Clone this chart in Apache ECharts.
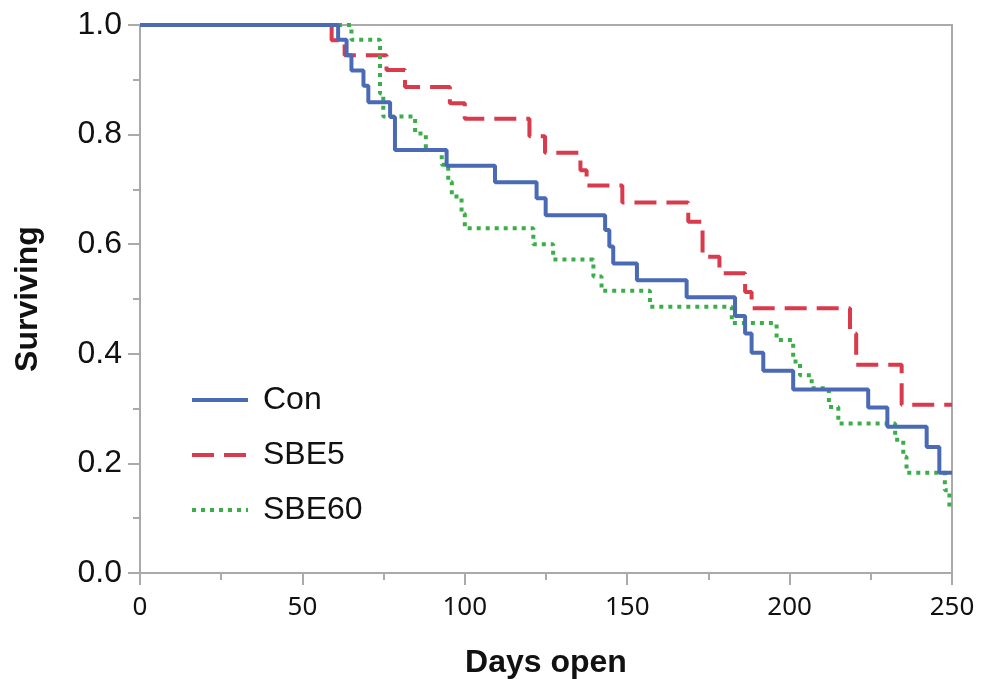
<!DOCTYPE html>
<html>
<head>
<meta charset="utf-8">
<script src="https://cdn.jsdelivr.net/npm/echarts@6/dist/echarts.min.js"></script>
<style>
  html, body { margin: 0; padding: 0; background: #fff; }
  #chart { width: 985px; height: 679px; }
</style>
</head>
<body>
<div id="chart"></div>
<script>
// Kaplan-Meier style survival curves
const conDays = [0, 61, 63.6, 65.1, 68.8, 70.3, 77.0, 78.5, 94.4, 109.3, 122.1, 124.9, 143.2, 144.5, 145.7, 153.0, 168.3, 183.2, 186.3, 188.3, 191.9, 201.1, 224.2, 230.1, 242.2, 246.1, 250];
const conSurv = [1.0, 0.973, 0.945, 0.917, 0.889, 0.859, 0.832, 0.772, 0.743, 0.713, 0.684, 0.653, 0.626, 0.596, 0.565, 0.534, 0.503, 0.469, 0.437, 0.402, 0.369, 0.335, 0.302, 0.267, 0.230, 0.183, 0.183];

const sbe5Days = [0, 59, 63, 75.9, 81.6, 95.4, 100, 119.9, 124.7, 135.6, 137.5, 148.5, 168.8, 173.2, 178.4, 186.3, 188.3, 218.6, 220.5, 234.5, 250];
const sbe5Surv = [1.0, 0.972, 0.945, 0.918, 0.887, 0.857, 0.829, 0.797, 0.767, 0.735, 0.707, 0.676, 0.641, 0.577, 0.547, 0.513, 0.483, 0.437, 0.380, 0.307, 0.307];

const sbe60Days = [0, 65.1, 73.9, 74.9, 84.7, 88, 92.9, 94.9, 96, 99, 100, 121.1, 127.2, 139.6, 142.1, 157, 182.2, 196, 201.1, 203.2, 206.8, 212.1, 215, 232.5, 235, 236, 247.8, 249.2, 250];
const sbe60Surv = [1.0, 0.973, 0.875, 0.833, 0.802, 0.772, 0.745, 0.714, 0.687, 0.656, 0.629, 0.600, 0.572, 0.541, 0.515, 0.486, 0.456, 0.425, 0.386, 0.361, 0.337, 0.303, 0.273, 0.243, 0.212, 0.183, 0.151, 0.121, 0.121];

const groupNames = ['Con', 'SBE5', 'SBE60'];
const xTicks = [0, 50, 100, 150, 200, 250];
const yTicks = [0.0, 0.2, 0.4, 0.6, 0.8, 1.0];

const axisGray = '#aaaaaa';

function pairs(days, surv) {
    return days.map((d, i) => [d, surv[i]]);
}

const chart = echarts.init(document.getElementById('chart'));

const option = {
    animation: false,
    backgroundColor: '#fff',
    grid: {
        left: 140, right: 33, top: 25, bottom: 106,
        outerBoundsMode: 'none', containLabel: false,
        show: true, borderColor: axisGray, borderWidth: 2
    },
    legend: {
        orient: 'vertical',
        left: 190, top: 384, padding: 0,
        itemWidth: 56, itemHeight: 14, itemGap: 23,
        data: groupNames,
        itemStyle: { opacity: 0 },
        lineStyle: { width: 4 },
        textStyle: { fontFamily: 'Liberation Sans', fontSize: 32, color: '#111', padding: [0, 0, 0, 10] }
    },
    xAxis: {
        type: 'value', min: xTicks[0], max: xTicks[xTicks.length - 1], interval: 50,
        name: 'Days open', nameLocation: 'middle', nameGap: 74,
        nameTextStyle: { fontFamily: 'Liberation Sans', fontWeight: 'bold', fontSize: 32, color: '#111' },
        axisLine: { lineStyle: { color: axisGray, width: 2 } },
        axisTick: { inside: false, length: 12, lineStyle: { color: axisGray, width: 2 } },
        minorTick: { show: true, splitNumber: 2, length: 7, lineStyle: { color: axisGray, width: 2 } },
        axisLabel: { fontFamily: 'Noto Sans', fontSize: 26, color: '#111', margin: 22 },
        splitLine: { show: false }
    },
    yAxis: {
        type: 'value', min: yTicks[0], max: yTicks[yTicks.length - 1], interval: 0.2,
        name: 'Surviving', nameLocation: 'middle', nameGap: 96, nameRotate: 90,
        nameTextStyle: { fontFamily: 'Liberation Sans', fontWeight: 'bold', fontSize: 32, color: '#111' },
        axisLine: { lineStyle: { color: axisGray, width: 2 } },
        axisTick: { inside: false, length: 12, lineStyle: { color: axisGray, width: 2 } },
        minorTick: { show: true, splitNumber: 2, length: 7, lineStyle: { color: axisGray, width: 2 } },
        axisLabel: {
            fontFamily: 'Liberation Sans', fontSize: 32, color: '#111', margin: 18,
            formatter: v => v.toFixed(1)
        },
        splitLine: { show: false }
    },
    series: [
        {
            name: 'Con', type: 'line', step: 'end', showSymbol: false, symbol: 'none', z: 3,
            data: pairs(conDays, conSurv),
            lineStyle: { color: '#4a6ab6', width: 4, type: 'solid' },
            itemStyle: { color: '#4a6ab6' }
        },
        {
            name: 'SBE5', type: 'line', step: 'end', showSymbol: false, symbol: 'none', z: 2,
            data: pairs(sbe5Days, sbe5Surv),
            lineStyle: { color: '#d93a4c', width: 4, type: [22, 10] },
            itemStyle: { color: '#d93a4c' }
        },
        {
            name: 'SBE60', type: 'line', step: 'end', showSymbol: false, symbol: 'none', z: 2,
            data: pairs(sbe60Days, sbe60Surv),
            lineStyle: { color: '#3aae48', width: 4, type: [4, 5] },
            itemStyle: { color: '#3aae48' }
        }
    ]
};
chart.setOption(option);
</script>
</body>
</html>
